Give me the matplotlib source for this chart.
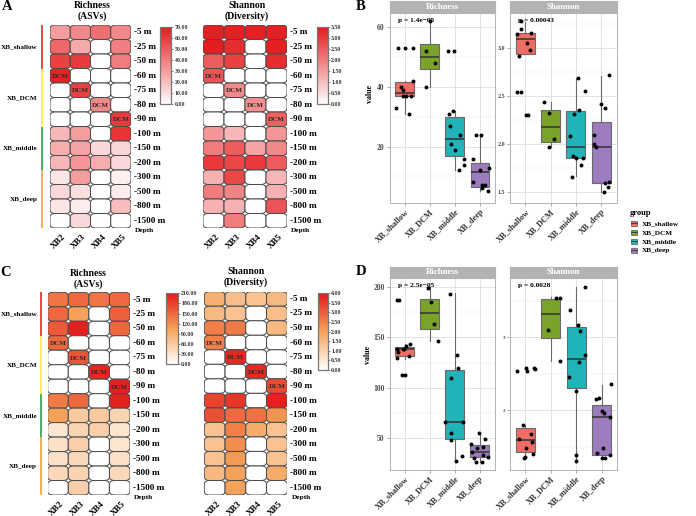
import numpy as np
import matplotlib
matplotlib.use('Agg')
import matplotlib.pyplot as plt
from matplotlib.patches import FancyBboxPatch, Rectangle
from matplotlib.colors import LinearSegmentedColormap, Normalize
from matplotlib.cm import ScalarMappable

plt.rcParams['font.family'] = ['Liberation Serif', 'DejaVu Serif']
plt.rcParams['font.weight'] = 'bold'

# ---------------- data ----------------
stations = ['XB2', 'XB3', 'XB4', 'XB5']
depths = ['-5 m', '-25 m', '-50 m', '-60 m', '-75 m', '-80 m', '-90 m', '-100 m',
          '-150 m', '-200 m', '-300 m', '-500 m', '-800 m', '-1500 m']
groups = ['XB_shallow', 'XB_DCM', 'XB_middle', 'XB_deep']
group_rows = [3, 4, 3, 4]
dcm_cells = [(3, 0), (4, 1), (5, 2), (6, 3)]

rich_A = [[30, 36, 44, 36], [46, 26, 0, 39], [58, 60, 0, 40], [67, 0, 0, 0],
          [0, 58, 0, 0], [0, 0, 36, 0], [0, 0, 0, 60], [22, 30, 0, 62],
          [25, 28, 12, 13], [22, 32, 25, 12], [8, 30, 0, 5], [12, 10, 0, 6],
          [8, 6, 0, 20], [0, 12, 0, 0]]
shan_A = [[3.4, 3.4, 3.4, 3.4], [3.45, 3.2, 0, 3.4], [2.5, 2.9, 0, 3.2], [2.6, 0, 0, 0],
          [0, 1.8, 0, 0], [0, 0, 1.7, 0], [0, 0, 0, 2.4], [1.6, 1.1, 0, 1.6],
          [2.0, 2.5, 1.4, 1.8], [3.0, 2.8, 3.0, 2.5], [1.2, 2.8, 0, 1.1],
          [2.0, 1.9, 0, 1.2], [1.2, 1.2, 0, 2.6], [0, 2.0, 0, 0]]
rich_C = [[140, 150, 140, 150], [150, 105, 0, 155], [160, 205, 0, 150], [150, 0, 0, 0],
          [0, 165, 0, 0], [0, 0, 200, 0], [0, 0, 0, 205], [135, 150, 0, 205],
          [105, 60, 60, 50], [30, 50, 55, 30], [35, 55, 0, 30], [35, 45, 0, 35],
          [45, 50, 0, 45], [0, 55, 0, 0]]
shan_C = [[1.7, 1.4, 1.3, 1.5], [1.5, 1.3, 0, 1.4], [2.5, 2.6, 0, 1.5], [2.5, 0, 0, 0],
          [0, 3.8, 0, 0], [0, 0, 3.8, 0], [0, 0, 0, 3.3], [3.4, 3.6, 0, 3.9],
          [3.2, 2.8, 2.7, 2.2], [1.3, 2.5, 1.8, 1.3], [1.3, 2.3, 0, 1.3],
          [1.3, 2.1, 0, 1.3], [1.5, 2.0, 0, 1.8], [0, 2.0, 0, 0]]

# boxplot statistics (whisker low, q1, median, q3, whisker high) per group
B_rich_lo = [31, 40, 12, 5]
B_rich_q1 = [37, 46, 16.8, 6.5]
B_rich_med = [38, 50, 22.5, 11.5]
B_rich_q3 = [41.5, 54.5, 30, 14.5]
B_rich_hi = [42, 62, 32, 24]
B_rich_pts = [[53, 53, 53, 42, 40, 39, 37, 37, 37, 33, 31],
              [62, 52, 48, 40],
              [52, 52, 32, 31, 27, 24, 21, 19, 16, 14, 12],
              [24, 24, 16, 13, 12, 8, 7, 7, 6, 5]]

B_shan_lo = [2.93, 1.97, 1.67, 1.50]
B_shan_q1 = [2.93, 2.02, 1.85, 1.59]
B_shan_med = [3.09, 2.18, 1.97, 1.965]
B_shan_q3 = [3.15, 2.35, 2.34, 2.23]
B_shan_hi = [3.27, 2.44, 2.69, 2.71]
B_shan_pts = [[3.28, 3.19, 3.15, 3.14, 3.05, 2.98, 2.91, 2.54, 2.54, 2.30, 2.30],
              [2.44, 2.32, 2.05, 1.97],
              [2.69, 2.55, 2.35, 2.31, 2.08, 1.87, 1.85, 1.85, 1.78, 1.66],
              [2.72, 2.41, 2.37, 2.09, 2.00, 1.97, 1.61, 1.59, 1.55, 1.50]]

D_rich_lo = [128.8, 146.2, 28, 27]
D_rich_q1 = [131.4, 158.3, 49.3, 31.3]
D_rich_med = [138, 173.7, 66.4, 36.8]
D_rich_q3 = [140.2, 187.9, 117.3, 43.4]
D_rich_hi = [143, 200, 193.4, 55.5]
D_rich_pts = [[187, 187, 143, 141, 138, 138, 138, 135, 131, 129, 113, 113],
              [199, 185, 163, 146],
              [193, 132, 120, 110, 66, 66, 55, 48, 33, 28],
              [55.5, 49, 44, 42, 41, 37, 34, 32, 31, 27, 27]]

D_shan_lo = [1.35, 2.67, 1.30, 1.34]
D_shan_q1 = [1.42, 2.99, 2.31, 1.39]
D_shan_med = [1.59, 3.32, 2.705, 1.91]
D_shan_q3 = [1.75, 3.52, 3.145, 2.07]
D_shan_hi = [1.79, 3.55, 3.68, 2.35]
D_shan_pts = [[2.58, 2.58, 2.56, 2.53, 2.54, 1.79, 1.67, 1.60, 1.57, 1.48, 1.40, 1.36, 1.35],
              [3.53, 3.54, 3.10, 2.67],
              [3.68, 3.37, 3.17, 3.08, 2.75, 2.66, 2.45, 2.26, 1.38, 1.30],
              [2.36, 2.17, 2.15, 1.99, 1.96, 1.91, 1.48, 1.41, 1.39, 1.34, 1.35]]

p_labels = ['p = 1.4e\u221205', 'p = 0.00043', 'p = 2.5e\u221205', 'p = 0.0028']

# ---------------- styling ----------------
box_colors = ['#EE6E66', '#7AA329', '#20B3B7', '#9C7BBE']
bar_colors = ['#E8262A', '#FFEE3A', '#2BA24C', '#F4A23A']
cmap_A = LinearSegmentedColormap.from_list('wr', ['#FFFFFF', '#E41A1C'])
cmap_C = LinearSegmentedColormap.from_list('wor', ['#FFFFFF', '#F4A259', '#E41A1C'])

W, H = 696, 516
fig = plt.figure(figsize=(6.96, 5.16), dpi=100)


def px_axes(x0, y0, x1, y1):
    return fig.add_axes([x0 / W, 1 - y1 / H, (x1 - x0) / W, (y1 - y0) / H])


def ftext(x, y, s, **kw):
    fig.text(x / W, 1 - y / H, s, **kw)


def heatmap(box, data, cmap, vmax, step, cbox, with_groups, bar_x, lab_x):
    data = np.asarray(data, dtype=float)
    ax = px_axes(*box)
    nr, nc = data.shape
    norm = Normalize(0, vmax)
    for r in range(nr):
        for c in range(nc):
            ax.add_patch(FancyBboxPatch((c, r), 1, 1,
                                        boxstyle='round,pad=0,rounding_size=0.26',
                                        fc=cmap(norm(data[r, c])), ec='#4a4a4a', lw=0.7))
    for (r, c) in dcm_cells:
        ax.text(c + 0.5, r + 0.55, 'DCM', ha='center', va='center', fontsize=5, color='#2a2a2a')
    ax.set_xlim(0, nc)
    ax.set_ylim(nr, 0)
    ax.axis('off')
    for r, d in enumerate(depths):
        ax.text(nc + 0.15, r + 0.5, d, ha='left', va='center', fontsize=6.6, clip_on=False)
    ax.text(nc + 0.2, nr + 0.16, 'Depth', ha='left', va='center', fontsize=5.3, clip_on=False)
    for c, s in enumerate(stations):
        ax.text(c + 0.72, nr + 0.5, s, rotation=45, ha='right', va='center',
                rotation_mode='anchor', fontsize=6.5, clip_on=False)
    if with_groups:
        start = 0
        for g, n, col in zip(groups, group_rows, bar_colors):
            ax.plot([bar_x, bar_x], [start, start + n], color=col, lw=1.2,
                    clip_on=False, solid_capstyle='butt')
            ax.text(lab_x, start + n / 2, g, ha='right', va='center', fontsize=5.1,
                    clip_on=False)
            start += n
    cax = px_axes(*cbox)
    cb = fig.colorbar(ScalarMappable(norm=norm, cmap=cmap), cax=cax,
                      ticks=np.arange(0, vmax + step / 2, step))
    cb.ax.set_yticklabels(['%.2f' % t for t in np.arange(0, vmax + step / 2, step)])
    cb.ax.tick_params(labelsize=4.2, length=1.5, width=0.4, pad=1, colors='#333333')
    cb.outline.set_edgecolor('#777777')
    cb.outline.set_linewidth(0.9)
    return ax


def boxpanel(box, strip_top, lo, q1, med, q3, hi, pts, ylim, yticks, yminor,
             ytickfmt, tick_fs, title, ptext, seed):
    x0, y0, x1, y1 = box
    ax = px_axes(*box)
    stats = [dict(whislo=a, q1=b, med=c, q3=d, whishi=e, fliers=[])
             for a, b, c, d, e in zip(lo, q1, med, q3, hi)]
    pos = np.arange(1, len(groups) + 1)
    for yv in yminor:
        ax.axhline(yv, color='#EBEBEB', lw=0.35, zorder=0)
    for yv in yticks:
        ax.axhline(yv, color='#DEDEDE', lw=0.6, zorder=0)
    for xv in pos:
        ax.axvline(xv, color='#DEDEDE', lw=0.6, zorder=0)
    bp = ax.bxp(stats, positions=pos, widths=0.75, patch_artist=True, showcaps=False,
                showfliers=False,
                boxprops=dict(edgecolor='#6a6a6a', lw=0.8),
                whiskerprops=dict(color='#6a6a6a', lw=0.8),
                medianprops=dict(color='#333333', lw=1.1))
    for patch, col in zip(bp['boxes'], box_colors):
        patch.set_facecolor(col)
    rng = np.random.default_rng(seed)
    for i, vals in enumerate(pts):
        xs = pos[i] + rng.uniform(-0.38, 0.38, len(vals))
        ax.scatter(xs, vals, s=8, color='black', zorder=5, linewidths=0)
    ax.set_xlim(0.4, 4.6)
    ax.set_ylim(*ylim)
    ax.set_yticks(yticks)
    ax.set_yticklabels([ytickfmt % t for t in yticks])
    ax.set_xticks(pos)
    ax.set_xticklabels(groups, rotation=45, ha='right', va='top', rotation_mode='anchor',
                       fontsize=6, color='#333333')
    ax.tick_params(axis='y', labelsize=tick_fs, length=2, width=0.5, color='#888888',
                   pad=1.5, labelcolor='#4d4d4d')
    ax.tick_params(axis='x', length=2, width=0.5, color='#888888', pad=1.5)
    for sp in ax.spines.values():
        sp.set_edgecolor('#B3B3B3')
        sp.set_linewidth(0.7)
    ax.text(0.72, ylim[1] - (ylim[1] - ylim[0]) * 0.025, ptext, ha='left', va='top',
            fontsize=5.3)
    sax = px_axes(x0, strip_top, x1, y0)
    sax.set_facecolor('#B3B3B3')
    sax.set_xticks([])
    sax.set_yticks([])
    for sp in sax.spines.values():
        sp.set_edgecolor('#B3B3B3')
    sax.text(0.5, 0.5, title, color='white', ha='center', va='center', fontsize=6.4,
             transform=sax.transAxes)
    return ax


# ---------------- heatmaps ----------------
heatmap((50, 25, 131, 228), rich_A, cmap_A, 70, 10, (160, 26.7, 171, 104.3), True, -0.41, -0.62)
heatmap((203, 25, 287, 228), shan_A, cmap_A, 3.5, 0.5, (317.3, 26.7, 327.7, 104.3), False, 0, 0)
heatmap((47.7, 292.3, 130, 495), rich_C, cmap_C, 210, 30, (166, 293.3, 177.7, 364.3), True, -0.34, -0.52)
heatmap((204.3, 291.7, 287.3, 495), shan_C, cmap_C, 4.0, 0.5, (317.7, 293.3, 327.7, 370), False, 0, 0)

ftext(92, 5, 'Richness', ha='center', va='center', fontsize=7)
ftext(92, 15.7, '(ASVs)', ha='center', va='center', fontsize=7)
ftext(247, 5, 'Shannon', ha='center', va='center', fontsize=7)
ftext(247, 15.7, '(Diversity)', ha='center', va='center', fontsize=7)
ftext(88, 273, 'Richness', ha='center', va='center', fontsize=7)
ftext(88, 284, '(ASVs)', ha='center', va='center', fontsize=7)
ftext(246, 271, 'Shannon', ha='center', va='center', fontsize=7)
ftext(246, 282.3, '(Diversity)', ha='center', va='center', fontsize=7)

# ---------------- boxplots ----------------
boxpanel((389.5, 13, 495, 202.7), 1, B_rich_lo, B_rich_q1, B_rich_med, B_rich_q3, B_rich_hi,
         B_rich_pts, (1.2, 64.8), [20, 40, 60], [10, 30, 50], '%d', 5.5, 'Richness', p_labels[0], 1)
boxpanel((510, 13, 616.5, 202.7), 1, B_shan_lo, B_shan_q1, B_shan_med, B_shan_q3, B_shan_hi,
         B_shan_pts, (1.39, 3.36), [1.5, 2.0, 2.5, 3.0], [1.75, 2.25, 2.75, 3.25], '%.1f', 4.3,
         'Shannon', p_labels[1], 2)
boxpanel((389.5, 278, 494.5, 470), 266.5, D_rich_lo, D_rich_q1, D_rich_med, D_rich_q3, D_rich_hi,
         D_rich_pts, (18.8, 208.5), [50, 100, 150, 200], [75, 125, 175], '%d', 5.5, 'Richness',
         p_labels[2], 3)
boxpanel((510, 278, 617, 470), 266.5, D_shan_lo, D_shan_q1, D_shan_med, D_shan_q3, D_shan_hi,
         D_shan_pts, (1.18, 3.81), [2, 3], [1.5, 2.5, 3.5], '%d', 3.8, 'Shannon', p_labels[3], 4)

ftext(370, 94, 'value', rotation=90, ha='center', va='center', fontsize=5.8)
ftext(368, 355, 'value', rotation=90, ha='center', va='center', fontsize=5.8)

# legend
lax = px_axes(626, 205, 696, 258)
lax.set_xlim(626, 696)
lax.set_ylim(258, 205)
lax.axis('off')
lax.text(630, 213, 'group', ha='left', va='center', fontsize=6.1)
for i, (g, col) in enumerate(zip(groups, box_colors)):
    yc = 223.3 + i * 9
    lax.add_patch(Rectangle((630.5, yc - 2.3), 6.5, 4.6, fc=col, ec='#6a6a6a', lw=0.6))
    lax.plot([630.5, 637], [yc, yc], color='#333333', lw=0.6)
    lax.text(641.7, yc, g, ha='left', va='center', fontsize=5.2)

# panel letters
for lab, x, y in [('A', 6.7, 6), ('B', 361, 6), ('C', 5.5, 272), ('D', 361, 271.3)]:
    ftext(x, y, lab, ha='center', va='center', fontsize=10.5)

fig.savefig('out.png', dpi=100)
